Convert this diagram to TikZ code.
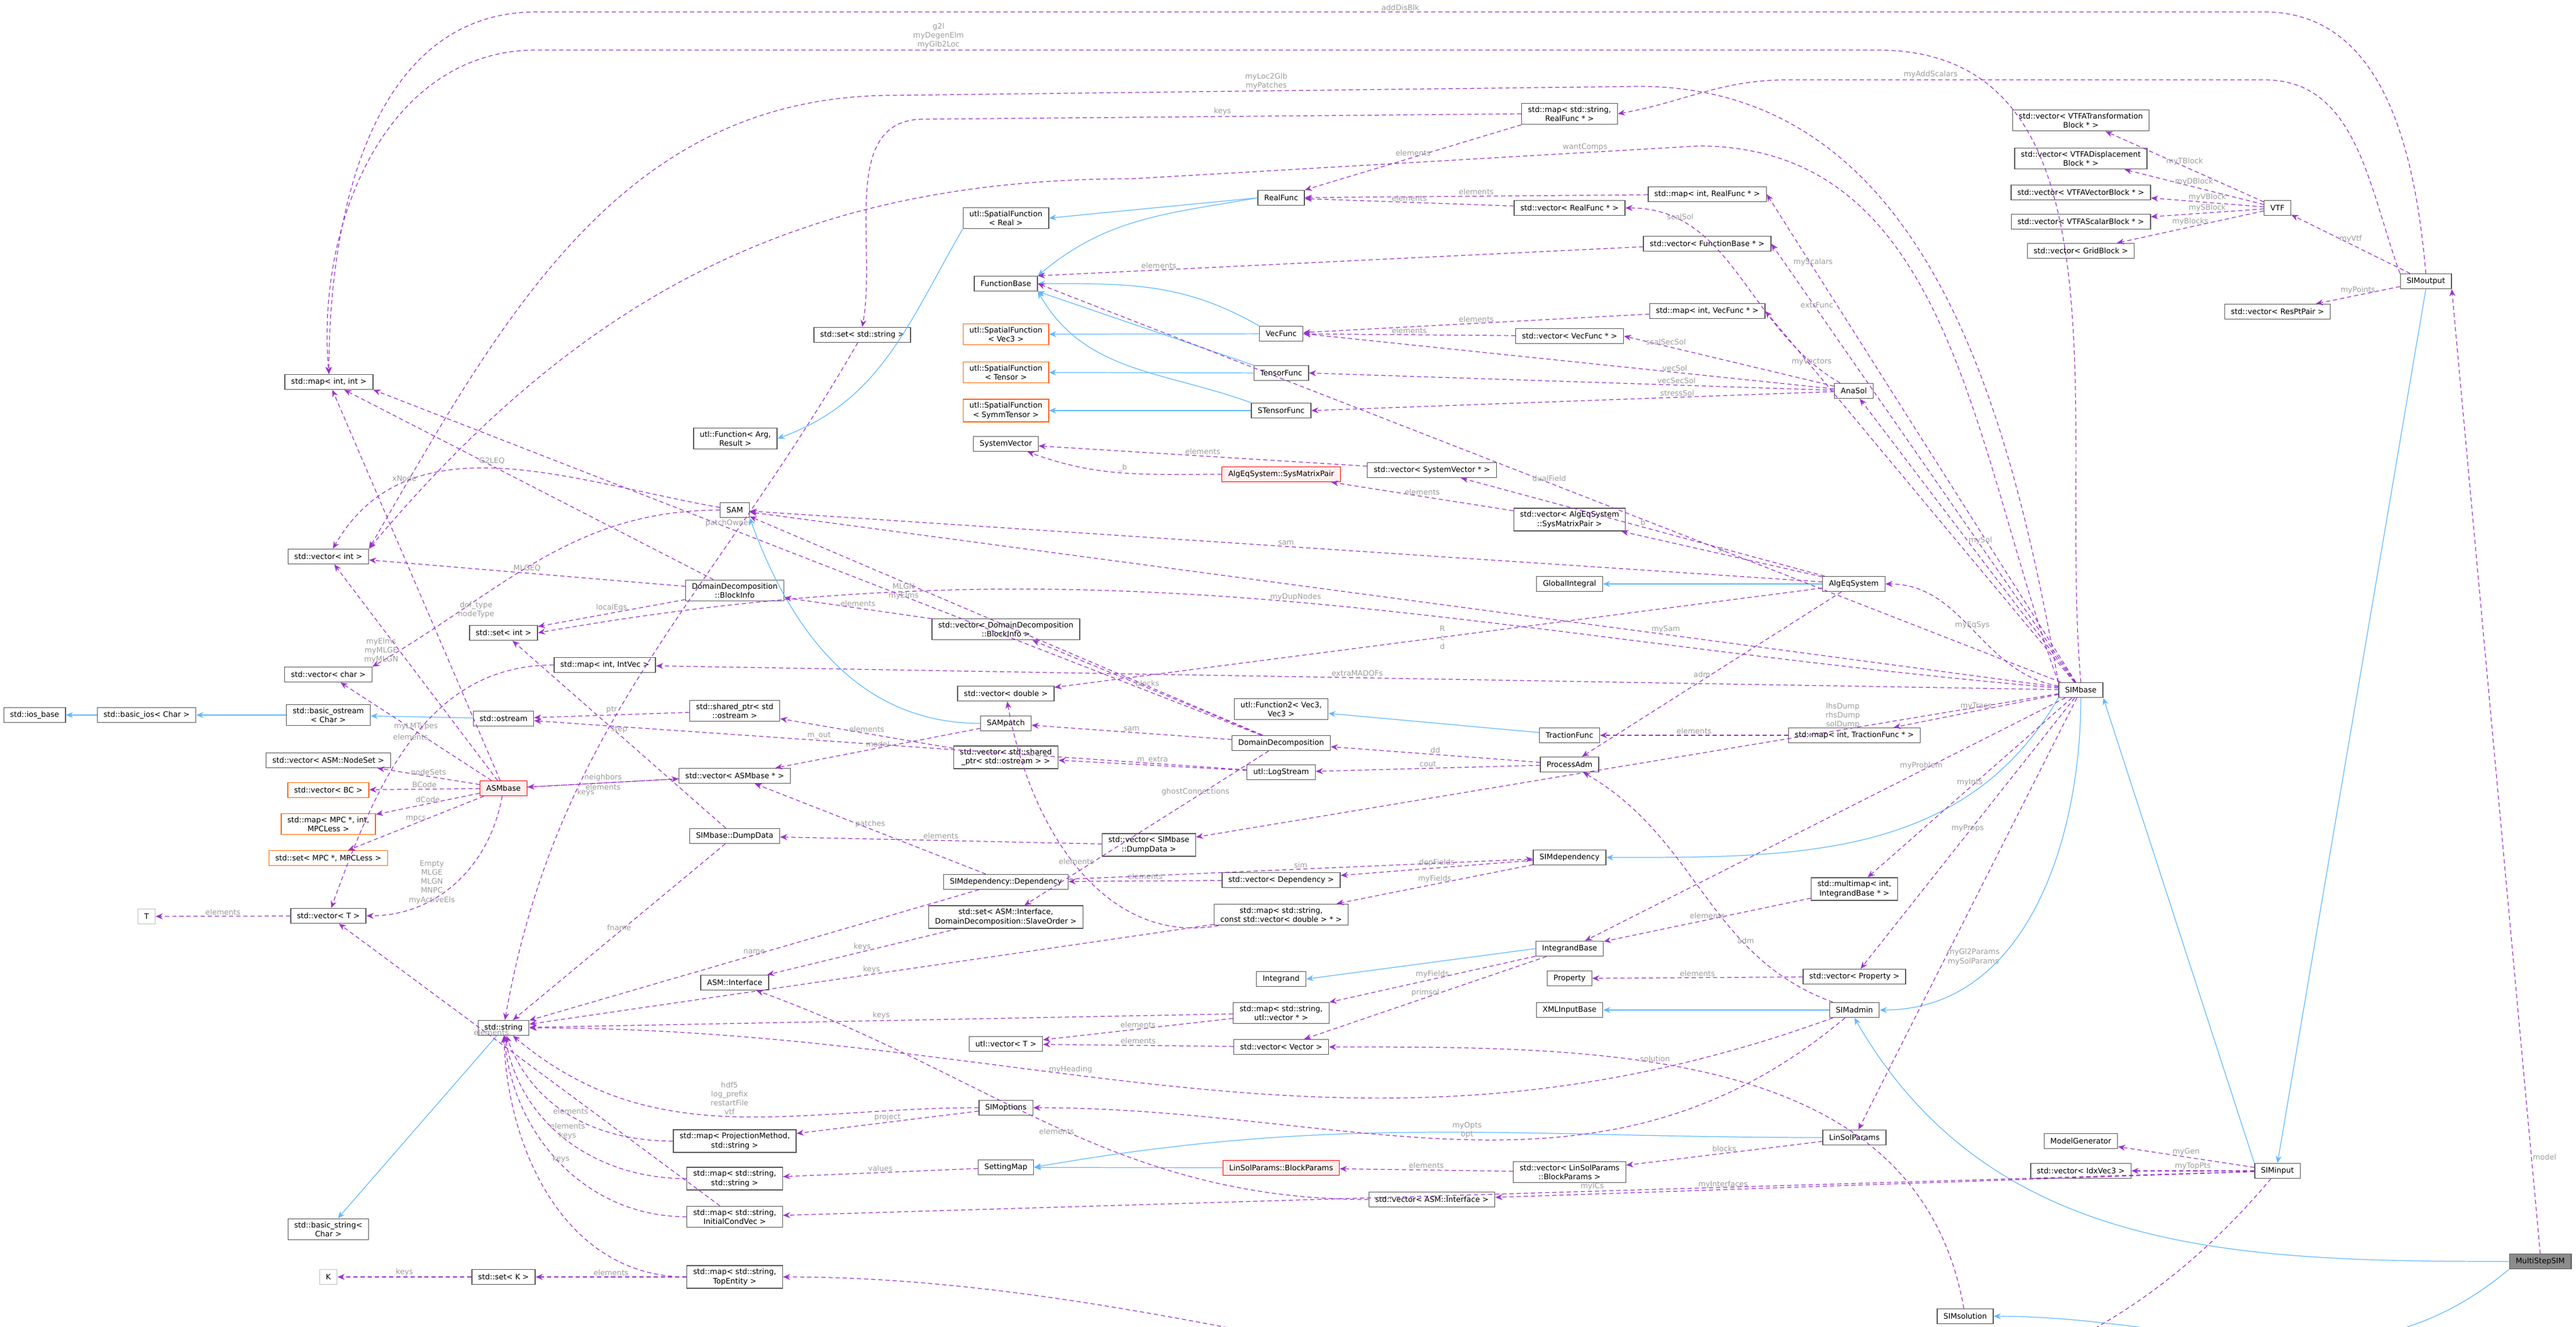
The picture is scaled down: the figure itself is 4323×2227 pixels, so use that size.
\documentclass[tikz,border=0pt]{standalone}
\usepackage{fontspec}
\setmainfont{DejaVu Sans}
\usetikzlibrary{arrows.meta}
\definecolor{usecol}{HTML}{9A32CD}
\definecolor{isacol}{HTML}{63B8FF}
\definecolor{lblcol}{HTML}{9C9C9C}
\tikzset{
	cls/.style={
		rectangle,
		draw=black!65,
		fill=white,
		inner xsep=3pt,
		inner ysep=1.5pt,
		minimum height=7.1pt,
		align=center,
		font=\fontsize{3.6}{4.3}\selectfont
	},
	ext/.style={cls, draw=orange!80!red},
	bad/.style={cls, draw=red, fill=red!6},
	ghost/.style={cls, draw=black!25},
	focus/.style={cls, fill=black!45},
	use/.style={
		-{Stealth[length=3.4pt,width=2.8pt]},
		draw=usecol,
		dash pattern=on 2pt off 1.4pt,
		line width=0.35pt
	},
	isa/.style={
		-{Stealth[length=3.4pt,width=2.8pt]},
		draw=isacol,
		line width=0.35pt
	},
	lbl/.style={
		text=lblcol,
		align=center,
		inner sep=0.5pt,
		font=\fontsize{3.6}{4.3}\selectfont
	}
}

\begin{document}
\begin{tikzpicture}[x=0.01cm,y=-0.01cm]
\useasboundingbox (0,0) rectangle (4323,2227);
% left column
\node [cls] (mapii) at (552,641) {std::map< int, int >};
\node [cls] (vecint) at (551,934) {std::vector< int >};
\node [cls] (vecchar) at (551,1132) {std::vector< char >};
\node [cls] (iosbase) at (58,1200) {std::ios\_base};
\node [cls] (basicios) at (246,1200) {std::basic\_ios< Char >};
\node [cls] (basicostream) at (551,1200) {std::basic\_ostream\\< Char >};
\node [cls] (vecNodeSet) at (551,1276) {std::vector< ASM::NodeSet >};
\node [ext] (vecBC) at (551,1326) {std::vector< BC >};
\node [ext] (mapMPC) at (551,1383) {std::map< MPC *, int,\\MPCLess >};
\node [ext] (setMPC) at (551,1440) {std::set< MPC *, MPCLess >};
\node [ghost] (T) at (246,1538) {T};
\node [cls] (vecT) at (551,1537) {std::vector< T >};
\node [cls] (basicstring) at (551,2063) {std::basic\_string<\\Char >};
\node [ghost] (K) at (551,2143) {K};
% second column
\node [cls] (setint) at (845,1062) {std::set< int >};
\node [cls] (ostream) at (845,1206) {std::ostream};
\node [bad] (ASMbase) at (845,1323) {ASMbase};
\node [cls] (string) at (845,1725) {std::string};
\node [cls] (setK) at (845,2143) {std::set< K >};
\node [cls] (mapIntVec) at (1015,1116) {std::map< int, IntVec >};
% third column
\node [cls] (utlFunc) at (1234,736) {utl::Function< Arg,\\Result >};
\node [cls] (SAM) at (1233,856) {SAM};
\node [cls] (DDBlockInfo) at (1233,991) {DomainDecomposition\\::BlockInfo};
\node [cls] (sharedptr) at (1233,1193) {std::shared\_ptr< std\\::ostream >};
\node [cls] (vecASMbase) at (1233,1302) {std::vector< ASMbase * >};
\node [cls] (DumpData) at (1233,1403) {SIMbase::DumpData};
\node [cls] (ASMInterface) at (1233,1649) {ASM::Interface};
\node [cls] (mapProj) at (1233,1915) {std::map< ProjectionMethod,\\std::string >};
\node [cls] (mapss) at (1233,1978) {std::map< std::string,\\std::string >};
\node [cls] (mapIC) at (1233,2042) {std::map< std::string,\\InitialCondVec >};
\node [cls] (mapTop) at (1233,2143) {std::map< std::string,\\TopEntity >};
\node [cls] (setstring) at (1447,562) {std::set< std::string >};
% fourth column
\node [cls] (utlSFReal) at (1688,366) {utl::SpatialFunction\\< Real >};
\node [cls] (FunctionBase) at (1688,476) {FunctionBase};
\node [ext] (utlSFVec3) at (1688,561) {utl::SpatialFunction\\< Vec3 >};
\node [ext] (utlSFTensor) at (1688,625) {utl::SpatialFunction\\< Tensor >};
\node [ext] (utlSFSymm) at (1688,689) {utl::SpatialFunction\\< SymmTensor >};
\node [cls] (SystemVector) at (1688,745) {SystemVector};
\node [cls] (vecDDBlock) at (1688,1056) {std::vector< DomainDecomposition\\::BlockInfo >};
\node [cls] (vecdouble) at (1688,1164) {std::vector< double >};
\node [cls] (SAMpatch) at (1688,1214) {SAMpatch};
\node [cls] (vecSharedPtr) at (1688,1271) {std::vector< std::shared\\\_ptr< std::ostream > >};
\node [cls] (Dependency) at (1688,1480) {SIMdependency::Dependency};
\node [cls] (setInterface) at (1688,1539) {std::set< ASM::Interface,\\DomainDecomposition::SlaveOrder >};
\node [cls] (utlvecT) at (1688,1752) {utl::vector< T >};
\node [cls] (SIMoptions) at (1688,1859) {SIMoptions};
\node [cls] (SettingMap) at (1688,1959) {SettingMap};
\node [cls] (vecDumpData) at (1928,1418) {std::vector< SIMbase\\::DumpData >};
% fifth column
\node [cls] (RealFunc) at (2150,332) {RealFunc};
\node [cls] (VecFunc) at (2150,560) {VecFunc};
\node [cls] (TensorFunc) at (2150,626) {TensorFunc};
\node [cls] (STensorFunc) at (2150,689) {STensorFunc};
\node [bad] (SysMatrixPair) at (2150,796) {AlgEqSystem::SysMatrixPair};
\node [cls] (utlFunction2) at (2150,1190) {utl::Function2< Vec3,\\Vec3 >};
\node [cls] (DD) at (2150,1247) {DomainDecomposition};
\node [cls] (LogStream) at (2150,1296) {utl::LogStream};
\node [cls] (vecDependency) at (2150,1477) {std::vector< Dependency >};
\node [cls] (mapSVD) at (2150,1535) {std::map< std::string,\\const std::vector< double > * >};
\node [cls] (Integrand) at (2150,1643) {Integrand};
\node [cls] (mapSUV) at (2150,1700) {std::map< std::string,\\utl::vector * >};
\node [cls] (vecVector) at (2150,1757) {std::vector< Vector >};
\node [bad] (BlockParams) at (2150,1960) {LinSolParams::BlockParams};
\node [cls] (vecSysVec) at (2403,789) {std::vector< SystemVector * >};
\node [cls] (vecASMInterface) at (2403,2013) {std::vector< ASM::Interface >};
% sixth column
\node [cls] (mapSRF) at (2634,191) {std::map< std::string,\\RealFunc * >};
\node [cls] (vecRealFunc) at (2634,349) {std::vector< RealFunc * >};
\node [cls] (vecVecFunc) at (2634,564) {std::vector< VecFunc * >};
\node [cls] (vecSysMat) at (2634,872) {std::vector< AlgEqSystem\\::SysMatrixPair >};
\node [cls] (GlobalIntegral) at (2634,980) {GlobalIntegral};
\node [cls] (TractionFunc) at (2634,1234) {TractionFunc};
\node [cls] (ProcessAdm) at (2634,1283) {ProcessAdm};
\node [cls] (SIMdependency) at (2634,1439) {SIMdependency};
\node [cls] (IntegrandBase) at (2634,1592) {IntegrandBase};
\node [cls] (Property) at (2634,1642) {Property};
\node [cls] (XMLInputBase) at (2634,1695) {XMLInputBase};
\node [cls] (vecBlockParams) at (2634,1967) {std::vector< LinSolParams\\::BlockParams >};
\node [cls] (mapIntRealFunc) at (2865,326) {std::map< int, RealFunc * >};
\node [cls] (vecFunctionBase) at (2865,409) {std::vector< FunctionBase * >};
\node [cls] (mapIntVecFunc) at (2865,522) {std::map< int, VecFunc * >};
% seventh column
\node [cls] (AnaSol) at (3111,656) {AnaSol};
\node [cls] (AlgEqSystem) at (3111,980) {AlgEqSystem};
\node [cls] (mapIntTrac) at (3112,1234) {std::map< int, TractionFunc * >};
\node [cls] (multimap) at (3112,1492) {std::multimap< int,\\IntegrandBase * >};
\node [cls] (vecProperty) at (3112,1639) {std::vector< Property >};
\node [cls] (SIMadmin) at (3112,1695) {SIMadmin};
\node [cls] (LinSolParams) at (3112,1909) {LinSolParams};
\node [cls] (SIMsolution) at (3298,2209) {SIMsolution};
% right part
\node [cls] (vecVTFT) at (3492,202) {std::vector< VTFATransformation\\Block * >};
\node [cls] (vecVTFD) at (3492,266) {std::vector< VTFADisplacement\\Block * >};
\node [cls] (vecVTFV) at (3492,323) {std::vector< VTFAVectorBlock * >};
\node [cls] (vecVTFS) at (3492,372) {std::vector< VTFAScalarBlock * >};
\node [cls] (vecGrid) at (3492,421) {std::vector< GridBlock >};
\node [cls] (SIMbase) at (3492,1158) {SIMbase};
\node [cls] (ModelGenerator) at (3492,1915) {ModelGenerator};
\node [cls] (vecIdx) at (3492,1965) {std::vector< IdxVec3 >};
\node [cls] (VTF) at (3822,349) {VTF};
\node [cls] (vecResPt) at (3822,523) {std::vector< ResPtPair >};
\node [cls] (SIMinput) at (3822,1965) {SIMinput};
\node [cls] (SIMoutput) at (4071,472) {SIMoutput};
\node [focus] (MultiStepSIM) at (4263,2117) {MultiStepSIM};

% inheritance
\draw [isa] (basicios) -- (iosbase);
\draw [isa] (basicostream) -- (basicios);
\draw [isa] (ostream) -- (basicostream);
\draw [isa] (string) -- (basicstring);
\draw [isa] (utlSFReal.south west) to[out=240,in=20] (utlFunc.east);
\draw [isa] (RealFunc.west) -- (utlSFReal.east);
\draw [isa] (RealFunc.west) to[out=190,in=40] (FunctionBase.north east);
\draw [isa] (VecFunc) -- (utlSFVec3);
\draw [isa] (VecFunc.north west) to[out=150,in=0] (FunctionBase.east);
\draw [isa] (TensorFunc) -- (utlSFTensor);
\draw [isa] (TensorFunc.north west) -- (FunctionBase.south east);
\draw [isa] (STensorFunc) -- (utlSFSymm);
\draw [isa] (STensorFunc.north west) to[out=160,in=-60] (FunctionBase.south east);
\draw [isa] (SAMpatch.west) to[out=180,in=-70] (SAM.south east);
\draw [isa] (TractionFunc) -- (utlFunction2);
\draw [isa] (AlgEqSystem) -- (GlobalIntegral);
\draw [isa] (SIMbase.south west) to[out=240,in=0] (SIMdependency.east);
\draw [isa] (SIMbase.south) to[out=270,in=0] (SIMadmin.east);
\draw [isa] (SIMadmin) -- (XMLInputBase);
\draw [isa] (IntegrandBase.west) -- (Integrand.east);
\draw [isa] (LinSolParams.west) to[out=180,in=10] (SettingMap.east);
\draw [isa] (BlockParams) -- (SettingMap);
\draw [isa] (SIMinput.north west) -- (SIMbase.south east);
\draw [isa] (SIMoutput.south) -- (SIMinput.north);
\draw [isa] (MultiStepSIM.west) to[out=180,in=-60] (SIMadmin.south);
\draw [isa] (MultiStepSIM.south west) to[out=220,in=0] (SIMsolution.east);

% long top routes
\draw [use] (SIMoutput.north) to[out=95,in=0] (3800,20) -- node[lbl,above]{addDisBlk} (900,20) to[out=180,in=90] (mapii.north);
\draw [use] (SIMbase.north) to[out=95,in=0] (3150,84) -- node[lbl,above,pos=0.7]{g2l\\myDegenElm\\myGlb2Loc} (900,84) to[out=180,in=95] (mapii.north);
\draw [use] (SIMoutput.north west) to[out=110,in=0] (3800,134) -- node[lbl,above,pos=0.7]{myAddScalars} (3000,134) to[out=180,in=10] (mapSRF.east);
\draw [use] (SIMbase.north west) to[out=100,in=0] (2750,145) -- node[lbl,above]{myLoc2Glb\\myPatches} (1500,160) to[out=180,in=60] (vecint.north east);
\draw [use] (mapSRF.west) -- node[lbl,above]{keys} (1550,200) to[out=180,in=80] (setstring.north);
\draw [use] (SIMbase.north west) to[out=110,in=0] (2850,245) -- node[lbl,above,pos=0.2]{wantComps} (1900,300) to[out=180,in=50] (vecint.north east);

% functions
\draw [use] (mapSRF.south west) -- node[lbl,above]{elements} (RealFunc.north east);
\draw [use] (mapIntRealFunc) -- node[lbl,above]{elements} (RealFunc);
\draw [use] (vecRealFunc) -- node[lbl,above]{elements} (RealFunc);
\draw [use] (SIMbase) -- node[lbl,above,pos=0.85]{myScalars} (mapIntRealFunc.east);
\draw [use] (AnaSol) to[out=150,in=0] node[lbl,above,pos=0.8]{scalSol} (vecRealFunc.east);
\draw [use] (vecFunctionBase) -- node[lbl,above,pos=0.8]{elements} (FunctionBase.north east);
\draw [use] (SIMbase) -- node[lbl,above,pos=0.85]{extrFunc} (vecFunctionBase.east);
\draw [use] (SIMbase) -- node[lbl,above,pos=0.5]{dualField} (FunctionBase.east);
\draw [use] (mapIntVecFunc) -- node[lbl,above]{elements} (VecFunc);
\draw [use] (vecVecFunc) -- node[lbl,above]{elements} (VecFunc);
\draw [use] (SIMbase) -- node[lbl,above,pos=0.85]{myVectors} (mapIntVecFunc.east);
\draw [use] (AnaSol) -- node[lbl,above,pos=0.8]{scalSecSol} (vecVecFunc.east);
\draw [use] (AnaSol) -- node[lbl,above,pos=0.3]{vecSol} (VecFunc.east);
\draw [use] (AnaSol) -- node[lbl,above,pos=0.3]{vecSecSol} (TensorFunc.east);
\draw [use] (AnaSol) -- node[lbl,above,pos=0.3]{stressSol} (STensorFunc.east);
\draw [use] (SIMbase) -- node[lbl,right]{mySol} (AnaSol);

% equation system
\draw [use] (vecSysVec) -- node[lbl,above]{elements} (SystemVector);
\draw [use] (SysMatrixPair) to[out=180,in=-20] node[lbl,above]{\_b} (SystemVector);
\draw [use] (AlgEqSystem) -- node[lbl,above]{b} (vecSysVec);
\draw [use] (vecSysMat) -- node[lbl,above]{elements} (SysMatrixPair);
\draw [use] (AlgEqSystem) -- node[lbl,above]{A} (vecSysMat);
\draw [use] (AlgEqSystem) -- node[lbl,above]{sam} (SAM);
\draw [use] (SIMbase) -- node[lbl,above,pos=0.3]{mySam} (SAM);
\draw [use] (SIMbase) to[out=170,in=0] node[lbl,above]{myEqSys} (AlgEqSystem);
\draw [use] (AlgEqSystem) -- node[lbl,left]{adm} (ProcessAdm);
\draw [use] (SIMadmin) to[out=160,in=-30] node[lbl,above,pos=0.3]{adm} (ProcessAdm);
\draw [use] (AlgEqSystem) -- node[lbl,right,pos=0.5]{R\\c\\d} (vecdouble);

% domain decomposition
\draw [use] (DD) -- node[lbl,above]{blocks} (vecDDBlock);
\draw [use] (vecDDBlock) -- node[lbl,above]{elements} (DDBlockInfo);
\draw [use] (DDBlockInfo) -- node[lbl,above,pos=0.6]{G2LEQ} (mapii);
\draw [use] (DDBlockInfo) -- node[lbl,above]{MLGEQ} (vecint);
\draw [use] (DDBlockInfo) -- node[lbl,above]{localEqs} (setint);
\draw [use] (DD) -- node[lbl,above,pos=0.6]{patchOwner} (mapii.south east);
\draw [use] (DD) -- node[lbl,above]{sam} (SAMpatch);
\draw [use] (DD) -- node[lbl,above,pos=0.3]{ghostConnections} (setInterface);
\draw [use] (ProcessAdm) -- node[lbl,above]{dd} (DD);
\draw [use] (ProcessAdm) -- node[lbl,above]{cout} (LogStream);
\draw [use] (LogStream) -- node[lbl,above]{m\_extra} (vecSharedPtr);
\draw [use] (LogStream) -- node[lbl,above,pos=0.6]{m\_out} (ostream);
\draw [use] (vecSharedPtr) -- node[lbl,above]{elements} (sharedptr);
\draw [use] (sharedptr) -- node[lbl,above]{ptr} (ostream);
\draw [use] (SAMpatch) -- node[lbl,above]{model} (vecASMbase);
\draw [use] (SIMbase) -- node[lbl,above]{extraMADOFs} (mapIntVec);
\draw [use] (SIMbase) to[out=175,in=10] node[lbl,above,pos=0.5]{myDupNodes} (setint.east);
\draw [use] (SAM) to[out=180,in=30] node[lbl,below,pos=0.7]{dof\_type\\nodeType} (vecchar.north east);
\draw [use] (SAM) to[out=170,in=60] node[lbl,above,pos=0.75]{xNode} (vecint);
\draw [use] (DD) -- node[lbl,below,pos=0.7]{MLGN\\myElms} (SAM);

% ASMbase
\draw [use] (ASMbase) -- node[lbl,above]{nodeSets} (vecNodeSet);
\draw [use] (ASMbase) -- node[lbl,above]{BCode} (vecBC);
\draw [use] (ASMbase) -- node[lbl,above]{dCode} (mapMPC);
\draw [use] (ASMbase) -- node[lbl,above]{mpcs} (setMPC);
\draw [use] (ASMbase) to[out=260,in=0] node[lbl,left]{Empty\\MLGE\\MLGN\\MNPC\\myActiveEls} (vecT);
\draw [use] (ASMbase) -- node[lbl,above]{myLMTypes} (vecchar);
\draw [use] (ASMbase) -- node[lbl,above]{neighbors} (vecASMbase);
\draw [use] (vecASMbase) -- node[lbl,below]{elements} (ASMbase);
\draw [use] (ASMbase) -- node[lbl,left,pos=0.6]{myElms\\myMLGE\\myMLGN} (vecint);
\draw [use] (ASMbase) -- (mapii);
\draw [use] (mapIntVec) to[out=180,in=70] node[lbl,above]{elements} (vecT);
\draw [use] (vecT) -- node[lbl,above]{elements} (T);

% dependencies and dumps
\draw [use] (SIMbase) -- node[lbl,above,pos=0.25]{lhsDump\\rhsDump\\solDump} (vecDumpData);
\draw [use] (vecDumpData) -- node[lbl,above]{elements} (DumpData);
\draw [use] (DumpData) -- node[lbl,above]{fname} (string);
\draw [use] (DumpData) -- node[lbl,above]{step} (setint);
\draw [use] (SIMdependency) -- node[lbl,above]{depFields} (vecDependency);
\draw [use] (SIMdependency) -- node[lbl,above]{myFields} (mapSVD);
\draw [use] (vecDependency) -- node[lbl,above]{elements} (Dependency);
\draw [use] (Dependency) -- node[lbl,above]{sim} (SIMdependency);
\draw [use] (Dependency) -- node[lbl,above]{patches} (vecASMbase);
\draw [use] (Dependency) -- node[lbl,above]{name} (string);
\draw [use] (mapSVD) to[out=190,in=-80] node[lbl,above]{elements} (vecdouble);
\draw [use] (mapSVD) -- node[lbl,above]{keys} (string);
\draw [use] (setInterface) -- node[lbl,above]{keys} (ASMInterface);
\draw [use] (setstring) to[out=240,in=80] node[lbl,right,pos=0.7]{keys} (string);

% integrands
\draw [use] (SIMbase) -- node[lbl,above,pos=0.3]{myProblem} (IntegrandBase);
\draw [use] (SIMbase) -- node[lbl,above]{myInts} (multimap);
\draw [use] (multimap) -- node[lbl,above]{elements} (IntegrandBase);
\draw [use] (IntegrandBase) -- node[lbl,above]{myFields} (mapSUV);
\draw [use] (IntegrandBase) -- node[lbl,above]{primsol} (vecVector);
\draw [use] (mapSUV) -- node[lbl,above]{elements} (utlvecT);
\draw [use] (mapSUV) -- node[lbl,above]{keys} (string);
\draw [use] (vecVector) -- node[lbl,above]{elements} (utlvecT);
\draw [use] (SIMsolution) to[out=100,in=0] node[lbl,above,pos=0.6]{solution} (vecVector);
\draw [use] (SIMbase) -- node[lbl,above]{myProps} (vecProperty);
\draw [use] (vecProperty) -- node[lbl,above]{elements} (Property);
\draw [use] (SIMbase) -- node[lbl,above]{myTracs} (mapIntTrac);
\draw [use] (mapIntTrac) -- node[lbl,above]{elements} (TractionFunc);

% admin, options, settings
\draw [use] (SIMadmin) to[out=200,in=0] node[lbl,above,pos=0.6]{myHeading} (string);
\draw [use] (SIMadmin) to[out=220,in=0] node[lbl,above,pos=0.5]{myOpts\\opt} (SIMoptions);
\draw [use] (SIMoptions) to[out=180,in=-40] node[lbl,above]{hdf5\\log\_prefix\\restartFile\\vtf} (string);
\draw [use] (SIMoptions) -- node[lbl,above]{project} (mapProj);
\draw [use] (mapProj) to[out=180,in=-70] node[lbl,above]{elements} (string);
\draw [use] (mapss) to[out=180,in=-80] node[lbl,above]{elements\\keys} (string);
\draw [use] (SettingMap) -- node[lbl,above]{values} (mapss);
\draw [use] (vecBlockParams) -- node[lbl,above]{elements} (BlockParams);
\draw [use] (LinSolParams) -- node[lbl,above]{blocks} (vecBlockParams);
\draw [use] (SIMbase) -- node[lbl,right,pos=0.6]{myGl2Params\\mySolParams} (LinSolParams);
\draw [use] (vecASMInterface) to[out=180,in=-20] node[lbl,below]{elements} (ASMInterface);

% input and output
\draw [use] (SIMinput) -- node[lbl,above,pos=0.7]{myInterfaces} (vecASMInterface);
\draw [use] (SIMinput) -- node[lbl,above,pos=0.45]{myICs} (mapIC);
\draw [use] (mapIC) to[out=180,in=-85] node[lbl,above]{keys} (string);
\draw [use] (mapIC) -- node[lbl,above,pos=0.6]{elements} (vecT);
\draw [use] (SIMinput) to[out=230,in=0] node[lbl,above,pos=0.5]{myEntitys} (mapTop);
\draw [use] (mapTop) -- node[lbl,above]{elements} (setK);
\draw [use] (setK) -- node[lbl,above]{keys} (K);
\draw [use] (mapTop) to[out=180,in=-88] (string);
\draw [use] (SIMinput) -- node[lbl,above]{myGen} (ModelGenerator);
\draw [use] (SIMinput) -- node[lbl,above]{myTopPts} (vecIdx);
\draw [use] (SIMoutput) -- node[lbl,above]{myVtf} (VTF);
\draw [use] (SIMoutput) -- node[lbl,above]{myPoints} (vecResPt);
\draw [use] (VTF) -- node[lbl,above]{myTBlock} (vecVTFT);
\draw [use] (VTF) -- node[lbl,above]{myDBlock} (vecVTFD);
\draw [use] (VTF) -- node[lbl,above]{myVBlock} (vecVTFV);
\draw [use] (VTF) -- node[lbl,above]{mySBlock} (vecVTFS);
\draw [use] (VTF) -- node[lbl,above]{myBlocks} (vecGrid);
\draw [use] (MultiStepSIM.north) -- node[lbl,right,pos=0.1]{model} (SIMoutput.south east);
\end{tikzpicture}
\end{document}
